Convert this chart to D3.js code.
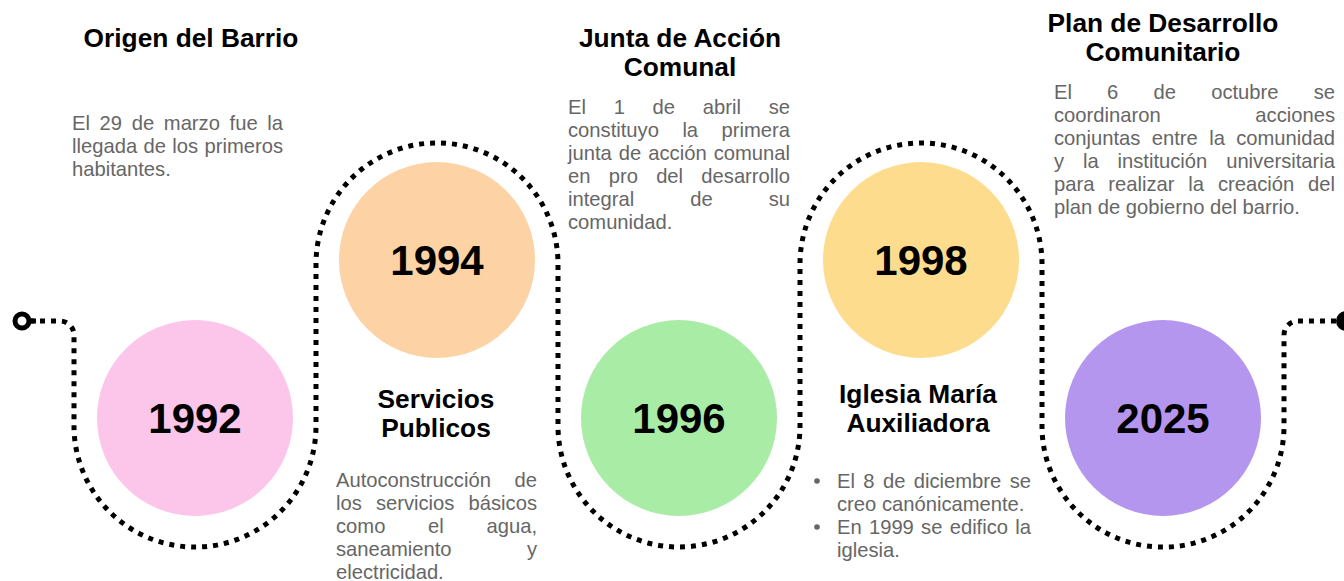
<!DOCTYPE html>
<html>
<head>
<meta charset="utf-8">
<script src="https://cdn.jsdelivr.net/npm/d3@7"></script>
<style>
  body { margin: 0; background: #fff; }
  text { font-family: Arial, "Liberation Sans", sans-serif; }
</style>
</head>
<body>
<svg id="chart"></svg>
<script>
// --- data ---
const years = [`1992`, `1994`, `1996`, `1998`, `2025`];
const colors = [`#fcc5ea`, `#fdd2a4`, `#a8eca5`, `#fedc8e`, `#b596ee`];
const titles = [
  [`Origen del Barrio`],
  [`Servicios`, `Publicos`],
  [`Junta de Acción`, `Comunal`],
  [`Iglesia María`, `Auxiliadora`],
  [`Plan de Desarrollo`, `Comunitario`]
];
// each description is a list of paragraphs, each paragraph a list of lines
const descriptions = [
  [[`El 29 de marzo fue la`, `llegada de los primeros`, `habitantes.`]],
  [[`Autoconstrucción de`, `los servicios básicos`, `como el agua,`, `saneamiento y`, `electricidad.`]],
  [[`El 1 de abril se`, `constituyo la primera`, `junta de acción comunal`, `en pro del desarrollo`, `integral de su`, `comunidad.`]],
  [[`El 8 de diciembre se`, `creo canónicamente.`], [`En 1999 se edifico la`, `iglesia.`]],
  [[`El 6 de octubre se`, `coordinaron acciones`, `conjuntas entre la comunidad`, `y la institución universitaria`, `para realizar la creación del`, `plan de gobierno del barrio.`]]
];
const bulleted = [false, false, false, true, false];

// --- layout ---
const width = 1344, height = 581;
const titleLayout = [
  { cx: 191, y: 47 }, { cx: 436, y: 408 }, { cx: 680, y: 47 }, { cx: 918, y: 403 }, { cx: 1163, y: 32 }
];
const bodyLayout = [
  { x0: 72, x1: 283, y: 130 }, { x0: 336, x1: 537, y: 487 }, { x0: 568, x1: 790, y: 114 },
  { x0: 837, x1: 1031, y: 488 }, { x0: 1054, x1: 1335, y: 99 }
];
const lineH = 23, titleLineH = 29;
const rowBottom = 418, rowTop = 260;
const arcBottom = 426, arcTop = 264;
const lineY = 321, corner = 14;

const svg = d3.select(`#chart`).attr(`width`, width).attr(`height`, height);

const x = d3.scaleLinear().domain([0, years.length - 1]).range([195, 1163]);
const r = (x(1) - x(0)) / 2;
const cy = (i) => i % 2 === 0 ? rowBottom : rowTop;

// dotted serpentine path
const p = d3.path();
p.moveTo(29, lineY);
p.arcTo(x(0) - r, lineY, x(0) - r, lineY + corner * 2, corner);
years.forEach((d, i) => {
  if (i % 2 === 0) p.arc(x(i), arcBottom, r, Math.PI, 0, true);
  else p.arc(x(i), arcTop, r, Math.PI, 2 * Math.PI, false);
});
const last = x(years.length - 1) + r;
p.arcTo(last, lineY, last + corner * 2, lineY, corner);
p.lineTo(1336, lineY);

svg.append(`path`)
  .attr(`d`, p.toString())
  .attr(`fill`, `none`)
  .attr(`stroke`, `#000`)
  .attr(`stroke-width`, 5)
  .attr(`stroke-dasharray`, `5 6`);

// start ring and end tip
svg.append(`circle`).attr(`cx`, 22).attr(`cy`, lineY).attr(`r`, 7)
  .attr(`fill`, `none`).attr(`stroke`, `#000`).attr(`stroke-width`, 5);
svg.append(`line`).attr(`x1`, 29).attr(`x2`, 36).attr(`y1`, lineY).attr(`y2`, lineY)
  .attr(`stroke`, `#000`).attr(`stroke-width`, 5);
svg.append(`circle`).attr(`cx`, 1346).attr(`cy`, lineY).attr(`r`, 10).attr(`fill`, `#000`);

// year circles
const nodes = svg.selectAll(`g.node`)
  .data(years)
  .enter().append(`g`)
    .attr(`class`, `node`)
    .attr(`transform`, (d, i) => `translate(${x(i)},${cy(i)})`);

nodes.append(`circle`)
  .attr(`r`, 98)
  .attr(`fill`, (d, i) => colors[i]);

nodes.append(`text`)
  .attr(`text-anchor`, `middle`)
  .attr(`dy`, `0.36em`)
  .attr(`font-size`, 42)
  .attr(`font-weight`, `bold`)
  .attr(`fill`, `#000`)
  .text((d) => d);

// titles
titles.forEach((lines, i) => {
  const t = svg.append(`text`)
    .attr(`text-anchor`, `middle`)
    .attr(`font-size`, 26.3)
    .attr(`font-weight`, `bold`)
    .attr(`fill`, `#000`);
  lines.forEach((l, j) => {
    t.append(`tspan`).attr(`x`, titleLayout[i].cx).attr(`y`, titleLayout[i].y + j * titleLineH).text(l);
  });
});

// justified body text
const bodySize = 20.2;
const measure = svg.append(`text`).attr(`font-size`, bodySize).attr(`visibility`, `hidden`);
const textWidth = (s) => { measure.text(s); return measure.node().getComputedTextLength(); };
const spaceW = textWidth(`a a`) - textWidth(`aa`);

descriptions.forEach((paras, i) => {
  const lay = bodyLayout[i];
  const g = svg.append(`g`);
  let row = 0;
  paras.forEach((lines) => {
    if (bulleted[i]) {
      g.append(`circle`).attr(`cx`, lay.x0 - 20).attr(`cy`, lay.y + row * lineH - 7)
        .attr(`r`, 2.8).attr(`fill`, `#666`);
    }
    lines.forEach((line, j) => {
      const y = lay.y + row * lineH;
      const words = line.split(` `);
      const widths = words.map(textWidth);
      const isLast = j === lines.length - 1;
      const gap = (isLast || words.length < 2)
        ? spaceW
        : (lay.x1 - lay.x0 - d3.sum(widths)) / (words.length - 1);
      const t = g.append(`text`).attr(`font-size`, bodySize).attr(`fill`, `#666`);
      let cx = lay.x0;
      words.forEach((w, k) => {
        t.append(`tspan`).attr(`x`, cx).attr(`y`, y).text(w);
        cx += widths[k] + gap;
      });
      row++;
    });
  });
});
measure.remove();
</script>
</body>
</html>
